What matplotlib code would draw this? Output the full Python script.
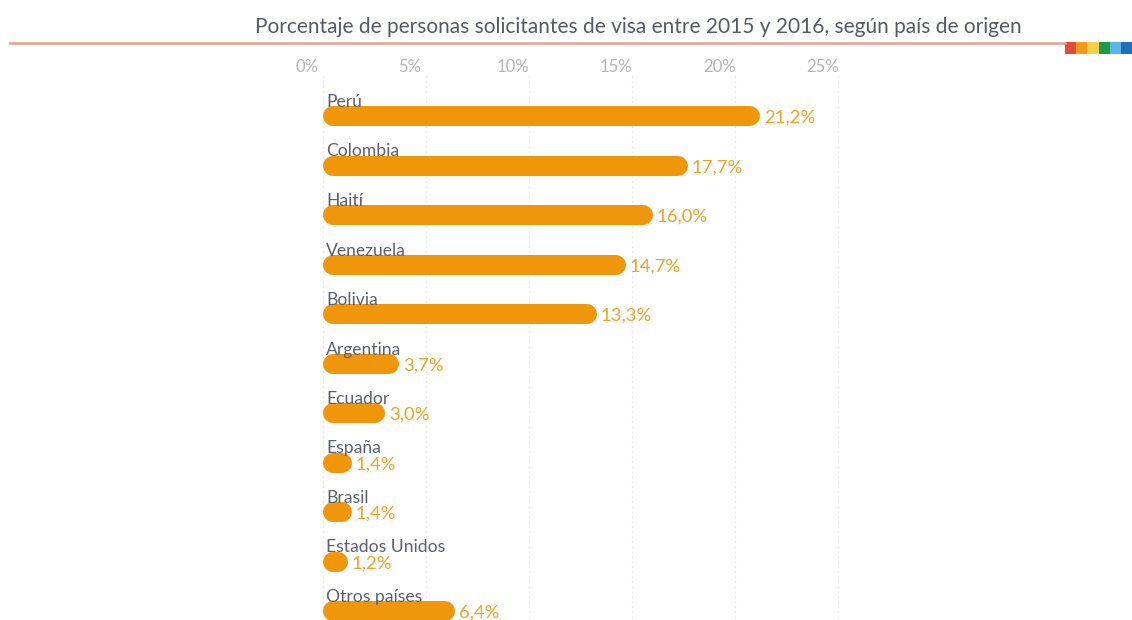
import matplotlib
matplotlib.use("Agg")
import matplotlib.pyplot as plt
from matplotlib.patches import Rectangle

# Solicitudes de visa 2015-2016 por país de origen (%)
paises = ["Perú", "Colombia", "Haití", "Venezuela", "Bolivia", "Argentina",
          "Ecuador", "España", "Brasil", "Estados Unidos", "Otros países"]
porcentajes = [21.2, 17.7, 16.0, 14.7, 13.3, 3.7, 3.0, 1.4, 1.4, 1.2, 6.4]
ticks = [0, 5, 10, 15, 20, 25]
tick_labels = ["0%", "5%", "10%", "15%", "20%", "25%"]
titulo = "Porcentaje de personas solicitantes de visa entre 2015 y 2016, según país de origen"
franja = ["#e34b3a", "#f39a1b", "#f4cf4b", "#1f9a47", "#5cb6e6", "#1f6fb6"]

W, H, DPI = 1132, 620, 100
X0 = 323          # pixel of 0%
PX = 20.6         # pixels per percent
BAR_PX = 20       # bar thickness in pixels
FONT = "Lato"
NARANJA = "#f0960a"

fig = plt.figure(figsize=(W / DPI, H / DPI), dpi=DPI)
ax = fig.add_axes([0, 0, 1, 1])
ax.set_xlim(-X0 / PX, (W - X0) / PX)
ax.set_ylim(H, 0)
ax.axis("off")

# dotted vertical grid
for t, lab in zip(ticks, tick_labels):
    ax.plot([t, t], [76, H], color="#e0e0e0", lw=0.9, ls=(0, (1, 3)), zorder=0)
    ax.text(t - 16 / PX, 67, lab, ha="center", va="center",
            fontsize=12, color="#b4b4b4", family=FONT)

# rounded bars as thick lines with round caps
r = BAR_PX / 2 / PX
lw_pt = BAR_PX * 72 / DPI
for i, (p, v) in enumerate(zip(paises, porcentajes)):
    y = 116 + i * 49.5
    ax.plot([r, max(v - r, r + 0.01)], [y, y], color=NARANJA, lw=lw_pt,
            solid_capstyle="round", zorder=2)
    ax.text(3 / PX, y - BAR_PX / 2 + 1, p, ha="left", va="baseline",
            fontsize=12.6, color="#5b6172", family=FONT, zorder=3)
    ax.text(v + 4 / PX, y + 2, f"{v:.1f}%".replace(".", ","), ha="left",
            va="center", fontsize=13.3, color="#f0a326", family=FONT, zorder=3)

# header: title, rule and colour strip
fig.text(638 / W, 1 - 27 / H, titulo, ha="center", va="center",
         fontsize=15, color="#555a63", family=FONT)
fig.add_artist(plt.Line2D([10 / W, 1065 / W], [1 - 43 / H, 1 - 43 / H],
                          color="#e9a091", lw=1.8, transform=fig.transFigure))
sw = 11.2
for k, c in enumerate(franja):
    fig.add_artist(Rectangle(((1065 + k * sw) / W, 1 - 54 / H), sw / W, 12 / H,
                             color=c, transform=fig.transFigure, lw=0))

fig.savefig("out.png", dpi=DPI)
